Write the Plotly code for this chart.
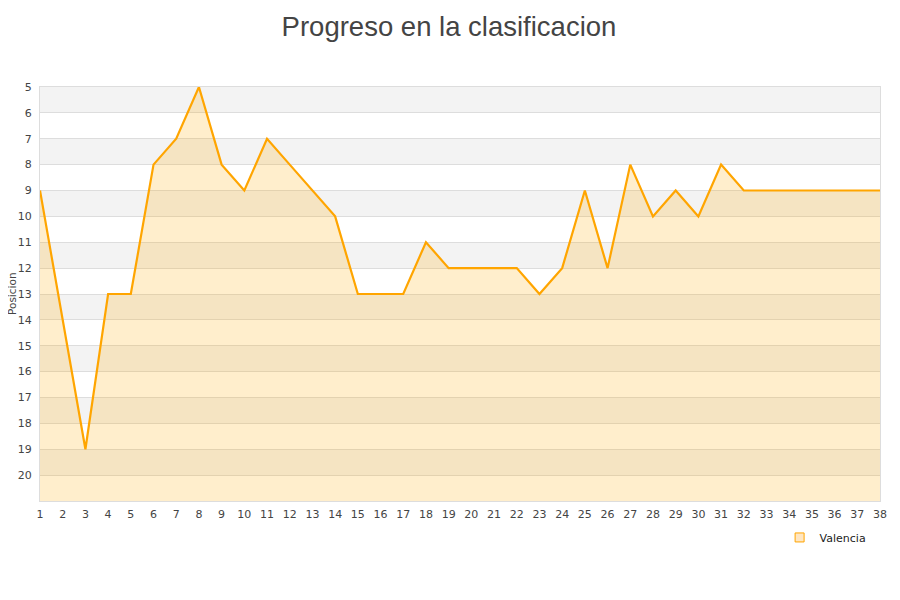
import plotly.graph_objects as go

jornadas = list(range(1, 39))
posiciones = [9, 14, 19, 13, 13, 8, 7, 5, 8, 9, 7, 8, 9, 10, 13, 13, 13, 11, 12, 12,
              12, 12, 13, 12, 9, 12, 8, 10, 9, 10, 8, 9, 9, 9, 9, 9, 9, 9]
equipo = "Valencia"
y_ticks = list(range(5, 21))
fondo = 21

fig = go.Figure()

# baseline for fill
fig.add_trace(go.Scatter(x=jornadas, y=[fondo] * len(jornadas), mode="lines",
                         line=dict(width=0), showlegend=False, hoverinfo="skip"))
fig.add_trace(go.Scatter(x=jornadas, y=posiciones, mode="lines", fill="tonexty",
                         fillcolor="rgba(255,170,0,0.2)",
                         line=dict(color="#FFA500", width=2.2), showlegend=False,
                         name=equipo))
# legend entry
fig.add_trace(go.Scatter(x=[None], y=[None], mode="markers", name=equipo,
                         marker=dict(symbol="square", size=9, color="rgba(255,200,120,0.45)",
                                     line=dict(color="#FFA500", width=1))))

shapes = []
for v in range(5, 21, 2):
    shapes.append(dict(type="rect", xref="paper", yref="y", x0=0, x1=1, y0=v, y1=v + 1,
                       fillcolor="#f3f3f3", line=dict(width=0), layer="below"))

fig.update_layout(
    width=900, height=600,
    paper_bgcolor="white", plot_bgcolor="white",
    margin=dict(l=32, r=28, t=79, b=107),
    title=dict(text="Progreso en la clasificacion", x=0.49, xanchor="center", y=0.985, yanchor="top",
               pad=dict(t=0, b=0),
               font=dict(family="Liberation Sans, Arial", size=27.5, color="#444")),
    shapes=shapes,
    annotations=[dict(text="Posicion", xref="paper", yref="paper", x=0, y=0.5,
                      xshift=-28, textangle=-90, showarrow=False,
                      xanchor="center", yanchor="middle",
                      font=dict(family="DejaVu Sans", size=10.5, color="#444"))],
    showlegend=True,
    legend=dict(orientation="h", x=0.99, xanchor="right", y=-0.053, yanchor="top",
                font=dict(family="DejaVu Sans", size=11, color="#222"),
                bgcolor="rgba(0,0,0,0)"),
    xaxis=dict(range=[1, 38], tickmode="array", tickvals=jornadas, ticks="",
               showgrid=False, zeroline=False, showline=True, linecolor="#ddd", mirror=True,
               automargin=False, ticklabelstandoff=3,
               tickfont=dict(family="DejaVu Sans", size=11, color="#444")),
    yaxis=dict(range=[fondo, 5], tickmode="array", tickvals=y_ticks, ticks="",
               showgrid=True, gridcolor="#ddd", gridwidth=1, zeroline=False,
               showline=True, linecolor="#ddd", mirror=True, automargin=False,
               ticklabelstandoff=5,
               tickfont=dict(family="DejaVu Sans", size=11, color="#444")),
)

fig.write_html("out.html")
